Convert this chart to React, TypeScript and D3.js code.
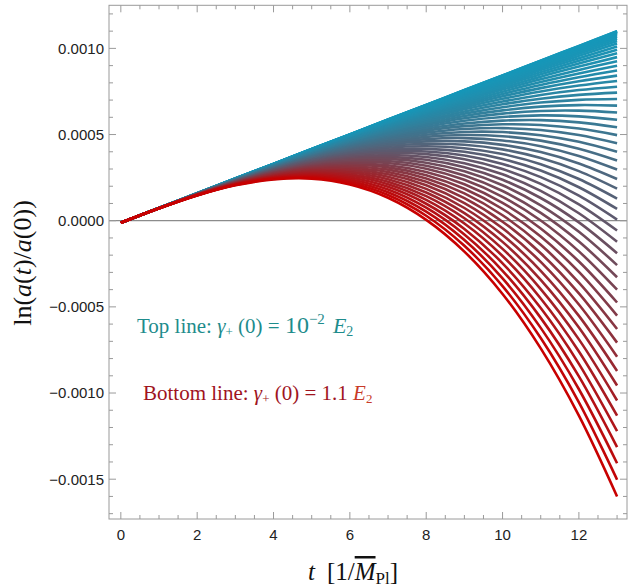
import React from "react";
import * as d3 from "d3";

// ---- data ----
const tSamples = [0, 1, 2, 3, 4, 5, 6, 7, 8, 9, 10, 11, 12, 13];
// top line (gamma+(0) = 1e-2 E2)
const topLine = [-0.000012, 0.0000735, 0.000159, 0.000245, 0.00033, 0.000416, 0.000501, 0.000587, 0.000672, 0.000758, 0.000843, 0.000929, 0.001014, 0.0011];
// bottom line (gamma+(0) = 1.1 E2)
const bottomLine = [-0.000012, 0.0000718, 0.0001467, 0.0002054, 0.0002394, 0.000244, 0.00021, 0.000133, 0.000005, -0.000179, -0.000425, -0.000741, -0.001131, -0.0016];
// end values (t = 13) of every curve, top to bottom
const endValues = [
  0.0011, 0.0010991, 0.0010964, 0.001092, 0.0010857, 0.0010777, 0.0010679, 0.0010563, 0.0010429, 0.0010277,
  0.0010107, 0.000992, 0.0009715, 0.0009492, 0.0009251, 0.0008992, 0.0008715, 0.000842, 0.0008108, 0.0007778,
  0.000743, 0.0007064, 0.000668, 0.0006278, 0.0005859, 0.0005421, 0.0004966, 0.0004493, 0.0004002, 0.0003493,
  0.0002967, 0.0002422, 0.000186, 0.000128, 0.0000682, 0.0000066, -0.0000568, -0.000122, -0.0001889, -0.0002576,
  -0.0003282, -0.0004005, -0.0004746, -0.0005504, -0.0006281, -0.0007075, -0.0007888, -0.0008718, -0.0009566, -0.0010432,
  -0.0011315, -0.0012217, -0.0013136, -0.0014074, -0.0015029, -0.0016002,
];
const xMajorTicks = [0, 2, 4, 6, 8, 10, 12];
const yMajorTicks = [-0.0015, -0.001, -0.0005, 0, 0.0005, 0.001];
const yTickLabels = ["\u22120.0015", "\u22120.0010", "\u22120.0005", "0.0000", "0.0005", "0.0010"];

const W = 643;
const H = 587;
const L = 109, R = 627, T = 5.3, B = 519;

export default function App() {
  const x = d3.scaleLinear().domain([-0.31, 13.26]).range([L, R]);
  const y = d3.scaleLinear().domain([-0.001731, 0.00125]).range([B, T]);

  const topEnd = topLine[topLine.length - 1];
  const botEnd = bottomLine[bottomLine.length - 1];
  const colorOf = d3.interpolateRgb("#1598ba", "#c80000");

  const line = d3
    .line<[number, number]>()
    .x((d) => x(d[0]))
    .y((d) => y(d[1]))
    .curve(d3.curveCatmullRom.alpha(0.5));

  const curves = endValues.map((e, i) => {
    const s = (topEnd - e) / (topEnd - botEnd);
    const pts: [number, number][] = tSamples.map((t, k) => [t, topLine[k] + s * (bottomLine[k] - topLine[k])]);
    return { d: line(pts) || "", color: colorOf(s), key: i };
  });

  const xMinor = d3.range(0, 13.01, 0.5);
  const yMinor = d3.range(-17, 13).map((v) => v * 0.0001);
  const frame = "#9a9a9a";
  const serif = "'Liberation Serif', 'Times New Roman', serif";
  const sans = "'Liberation Sans', Arial, sans-serif";

  return (
    <svg width={W} height={H} style={{ position: "absolute", left: 0, top: 0, background: "#fff" }}>
      {/* zero line */}
      <line x1={L} x2={R} y1={y(0)} y2={y(0)} stroke="#8c8c8c" strokeWidth={1.2} />
      {/* curves */}
      <g fill="none" strokeWidth={2.6} strokeLinecap="butt">
        {curves.map((c) => (
          <path key={c.key} d={c.d} stroke={c.color} />
        ))}
      </g>
      {/* frame */}
      <rect x={L} y={T} width={R - L} height={B - T} fill="none" stroke={frame} strokeWidth={1} />
      {/* ticks */}
      <g stroke={frame} strokeWidth={1}>
        {xMinor.map((t) => {
          const major = Math.abs(t / 2 - Math.round(t / 2)) < 1e-6 && t <= 12;
          const len = major ? 7 : 4;
          return (
            <g key={"xt" + t}>
              <line x1={x(t)} x2={x(t)} y1={B} y2={B - len} />
              <line x1={x(t)} x2={x(t)} y1={T} y2={T + len} />
            </g>
          );
        })}
        {yMinor.map((v, i) => {
          const major = yMajorTicks.some((m) => Math.abs(m - v) < 1e-9);
          const len = major ? 7 : 4;
          return (
            <g key={"yt" + i}>
              <line x1={L} x2={L + len} y1={y(v)} y2={y(v)} />
              <line x1={R} x2={R - len} y1={y(v)} y2={y(v)} />
            </g>
          );
        })}
      </g>
      {/* tick labels */}
      <g fontFamily={sans} fontSize={15} fill="#222">
        {xMajorTicks.map((t) => (
          <text key={"xl" + t} x={x(t)} y={540} textAnchor="middle">
            {t}
          </text>
        ))}
        {yMajorTicks.map((v, i) => (
          <text key={"yl" + i} x={104} y={y(v)} dy="0.36em" textAnchor="end">
            {yTickLabels[i]}
          </text>
        ))}
      </g>
      {/* axis labels */}
      <text
        fontFamily={serif}
        fontSize={26}
        fill="#111"
        transform={`translate(31,263) rotate(-90)`}
        textAnchor="middle"
      >
        ln(<tspan fontStyle="italic">a</tspan>(<tspan fontStyle="italic">t</tspan>)/<tspan fontStyle="italic">a</tspan>(0))
      </text>
      <text fontFamily={serif} fontSize={25} fill="#111" x={353} y={580} textAnchor="middle">
        <tspan fontStyle="italic">t</tspan>
        <tspan dx={12}>[1/</tspan>
        <tspan fontStyle="italic" textDecoration="overline">M</tspan>
        <tspan fontSize={17} dy={4}>Pl</tspan>
        <tspan dy={-4}>]</tspan>
      </text>
      {/* annotations */}
      <text fontFamily={serif} fontSize={21} fill="#1e8c8c" x={137} y={333}>
        Top line: <tspan fontStyle="italic">γ</tspan>
        <tspan fontSize={13} dy={3}>+</tspan>
        <tspan dy={-3}> (0) = </tspan>
        <tspan fontSize={24}>10</tspan>
        <tspan fontSize={15} dy={-9}>−2</tspan>
        <tspan dy={9} dx={8} fontStyle="italic" fontSize={22}>E</tspan>
        <tspan fontSize={14} dy={3}>2</tspan>
      </text>
      <text fontFamily={serif} fontSize={21} fill="#a0141e" x={143} y={400}>
        Bottom line: <tspan fontStyle="italic">γ</tspan>
        <tspan fontSize={13} dy={3}>+</tspan>
        <tspan dy={-3}> (0) = 1.1 </tspan>
        <tspan fontStyle="italic" fill="#c83a28">E</tspan>
        <tspan fontSize={13} dy={3} fill="#c83a28">2</tspan>
      </text>
    </svg>
  );
}
